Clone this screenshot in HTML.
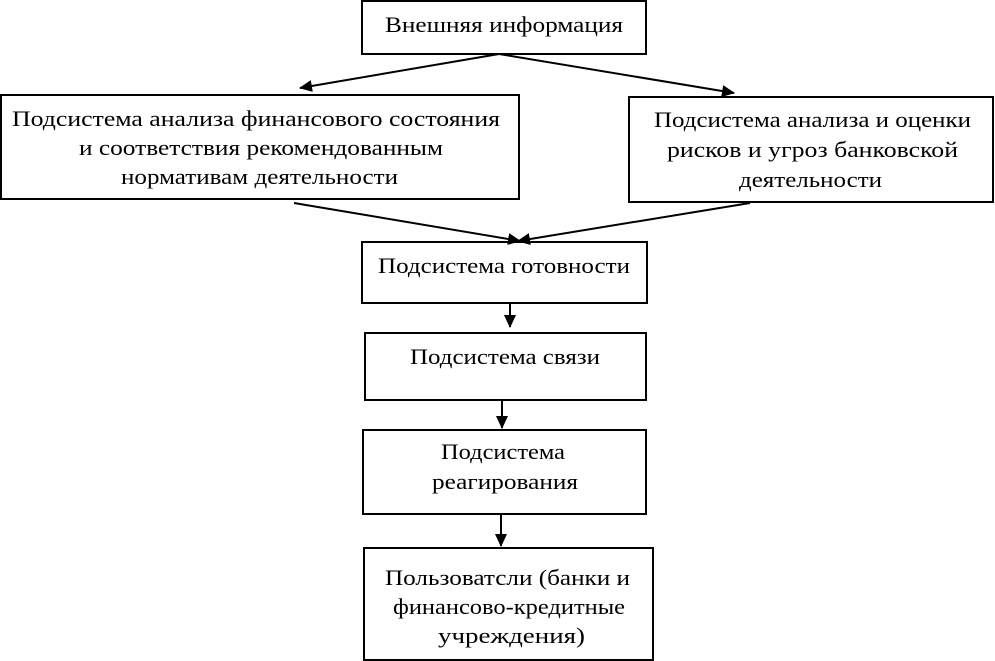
<!DOCTYPE html>
<html><head><meta charset="utf-8"><style>
html,body{margin:0;padding:0;background:#fff;}
svg{display:block;}
text{font-family:"Liberation Serif","Times New Roman",serif;font-size:22px;fill:#000;}
</style></head><body>
<svg width="995" height="661" viewBox="0 0 995 661" xmlns="http://www.w3.org/2000/svg">
<defs><marker id="a" markerWidth="13" markerHeight="12" refX="12" refY="6" orient="auto" markerUnits="userSpaceOnUse"><path d="M0,0 L13,6 L0,12 z" fill="#000"/></marker></defs>
<g fill="none" stroke="#000" stroke-width="2">
<rect x="362" y="1" width="284" height="53"/>
<rect x="1" y="95" width="518" height="104"/>
<rect x="629" y="97" width="364" height="105"/>
<rect x="362" y="242" width="285" height="61"/>
<rect x="365" y="333" width="281" height="67"/>
<rect x="363" y="430" width="283" height="84"/>
<rect x="364" y="548" width="289" height="112"/>
<line x1="499" y1="54" x2="300" y2="88" marker-end="url(#a)"/>
<line x1="499" y1="54" x2="734" y2="93" marker-end="url(#a)"/>
<line x1="294" y1="203" x2="520" y2="241" marker-end="url(#a)"/>
<line x1="750" y1="203" x2="518" y2="241" marker-end="url(#a)"/>
<line x1="510" y1="303" x2="510" y2="327" marker-end="url(#a)"/>
<line x1="502" y1="400" x2="502" y2="428" marker-end="url(#a)"/>
<line x1="501" y1="514" x2="501" y2="546" marker-end="url(#a)"/>
</g>
<text x="385" y="32" textLength="238" lengthAdjust="spacingAndGlyphs">Внешняя информация</text>
<text x="12" y="126" textLength="488" lengthAdjust="spacingAndGlyphs">Подсистема анализа финансового состояния</text>
<text x="79" y="155" textLength="364" lengthAdjust="spacingAndGlyphs">и соответствия рекомендованным</text>
<text x="121" y="184" textLength="277" lengthAdjust="spacingAndGlyphs">нормативам деятельности</text>
<text x="654" y="127" textLength="317" lengthAdjust="spacingAndGlyphs">Подсистема анализа и оценки</text>
<text x="667" y="157" textLength="291" lengthAdjust="spacingAndGlyphs">рисков и угроз банковской</text>
<text x="739" y="187" textLength="143" lengthAdjust="spacingAndGlyphs">деятельности</text>
<text x="378" y="273" textLength="252" lengthAdjust="spacingAndGlyphs">Подсистема готовности</text>
<text x="410" y="364" textLength="190" lengthAdjust="spacingAndGlyphs">Подсистема связи</text>
<text x="441" y="459" textLength="124" lengthAdjust="spacingAndGlyphs">Подсистема</text>
<text x="432" y="489" textLength="146" lengthAdjust="spacingAndGlyphs">реагирования</text>
<text x="385" y="585" textLength="245" lengthAdjust="spacingAndGlyphs">Пользоватсли (банки и</text>
<text x="393" y="614" textLength="232" lengthAdjust="spacingAndGlyphs">финансово-кредитные</text>
<text x="438" y="643" textLength="147" lengthAdjust="spacingAndGlyphs">учреждения)</text>
</svg>
</body></html>
